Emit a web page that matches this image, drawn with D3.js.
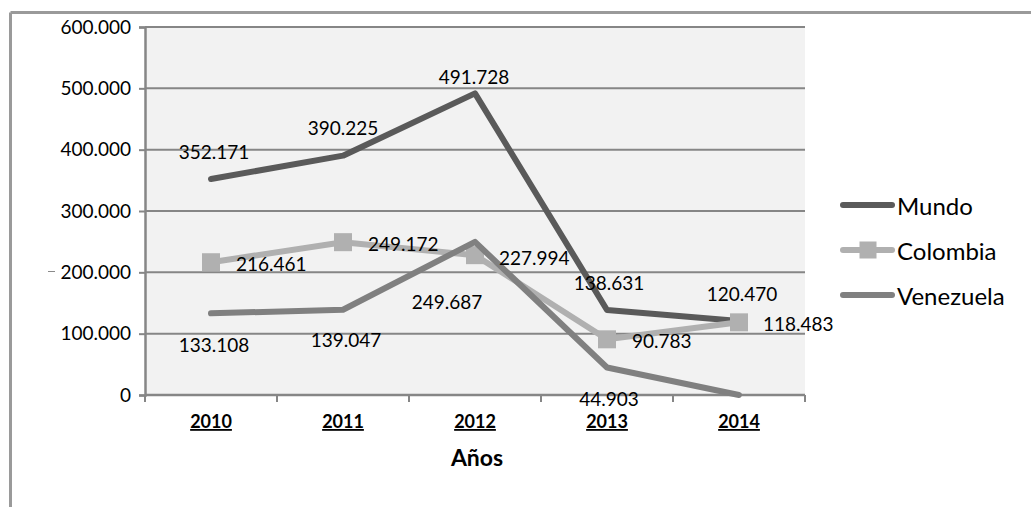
<!DOCTYPE html>
<html>
<head>
<meta charset="utf-8">
<script src="https://cdn.jsdelivr.net/npm/d3@7"></script>
<style>
  html, body { margin: 0; padding: 0; background: #ffffff; }
  svg { display: block; font-family: Lato, "Open Sans", sans-serif; }
</style>
</head>
<body>
<svg id="chart" width="1031" height="507"></svg>
<script>
// Years on the category axis
const years = ["2010", "2011", "2012", "2013", "2014"];

// Series values (null = no figure reported, drawn at zero)
const mundo     = [352171, 390225, 491728, 138631, 120470];
const colombia  = [216461, 249172, 227994, 90783, 118483];
const venezuela = [133108, 139047, 249687, 44903, null];

const seriesNames = ["Mundo", "Colombia", "Venezuela"];

// Value axis ticks
const yTicks = [0, 100000, 200000, 300000, 400000, 500000, 600000];

const axisTitle = "Años";

// Drawing styles per series
const styles = {
  Mundo:     { color: "#5a5a5a", marker: false },
  Colombia:  { color: "#b0b0b0", marker: true },
  Venezuela: { color: "#808080", marker: false }
};

// Hand placed data label offsets (from each point)
const labelPlacement = {
  Mundo:     { anchor: "middle", off: [[3, -28], [0, -28], [-1, -17], [2, -27], [3, -28]] },
  Colombia:  { anchor: "start",  off: [[25, 1], [25, 1], [24, 2], [25, 1], [24, 1]] },
  Venezuela: { anchor: "middle", off: [[3, 31], [3, 30], [-28, 60], [2, 31], [0, 0]] }
};

const fmt = d3.formatLocale({ decimal: ",", thousands: ".", grouping: [3], currency: ["", ""] }).format(",d");

const svg = d3.select("#chart");

// Outer chart frame (only top and left edges are visible)
svg.append("line").attr("x1", 10.5).attr("x2", 1031).attr("y1", 12.5).attr("y2", 12.5)
  .attr("stroke", "#9a9a9a").attr("stroke-width", 3);
svg.append("line").attr("x1", 10.5).attr("x2", 10.5).attr("y1", 12.5).attr("y2", 507)
  .attr("stroke", "#9a9a9a").attr("stroke-width", 3);

const plot = { left: 145, right: 805, top: 27, bottom: 395 };

const x = d3.scaleBand().domain(years).range([plot.left, plot.right]).padding(0);
const y = d3.scaleLinear().domain([0, 600000]).range([plot.bottom, plot.top]);
const cx = d => x(d) + x.bandwidth() / 2;

// Plot area background
svg.append("rect")
  .attr("x", plot.left).attr("y", plot.top)
  .attr("width", plot.right - plot.left).attr("height", plot.bottom - plot.top)
  .attr("fill", "#f2f2f2");

// Horizontal gridlines
svg.append("g").selectAll("line")
  .data(yTicks.filter(t => t > 0))
  .join("line")
  .attr("x1", plot.left).attr("x2", plot.right)
  .attr("y1", d => y(d)).attr("y2", d => y(d))
  .attr("stroke", "#868686").attr("stroke-width", 2);

// Value axis
const yAxis = svg.append("g")
  .attr("transform", `translate(${plot.left},0)`)
  .call(d3.axisLeft(y).tickValues(yTicks).tickSize(6).tickPadding(8).tickFormat(fmt));
yAxis.select(".domain").attr("stroke", "#868686").attr("stroke-width", 2.5);
yAxis.selectAll(".tick line").attr("stroke", "#868686").attr("stroke-width", 2);
yAxis.selectAll(".tick text").attr("font-size", 19).attr("fill", "#000")
  .attr("font-family", "Lato, sans-serif");

// Category axis
const xAxis = svg.append("g")
  .attr("transform", `translate(0,${plot.bottom})`)
  .call(d3.axisBottom(x).tickSize(0).tickPadding(0));
xAxis.select(".domain").remove();
xAxis.append("line").attr("x1", plot.left).attr("x2", plot.right)
  .attr("y1", 0).attr("y2", 0).attr("stroke", "#868686").attr("stroke-width", 2.5);
xAxis.selectAll(".bound")
  .data(d3.range(years.length + 1))
  .join("line")
  .attr("x1", i => plot.left + i * x.bandwidth())
  .attr("x2", i => plot.left + i * x.bandwidth())
  .attr("y1", 0).attr("y2", 7)
  .attr("stroke", "#868686").attr("stroke-width", 2);
xAxis.selectAll(".tick text")
  .attr("y", 33).attr("dy", 0)
  .attr("font-size", 18).attr("font-weight", "bold").attr("fill", "#000")
  .attr("text-decoration", "underline")
  .attr("font-family", "Lato, sans-serif");

// Axis title
svg.append("text")
  .attr("x", 477).attr("y", 466)
  .attr("text-anchor", "middle")
  .attr("font-size", 23).attr("font-weight", "bold").attr("fill", "#000")
  .text(axisTitle);

// Small stray tick beside the 200.000 label
svg.append("line").attr("x1", 48).attr("x2", 55).attr("y1", 271.5).attr("y2", 271.5)
  .attr("stroke", "#8a8a8a").attr("stroke-width", 1);

// Series lines
const seriesData = { Mundo: mundo, Colombia: colombia, Venezuela: venezuela };
const line = d3.line().x(d => cx(d.year)).y(d => y(d.value == null ? 0 : d.value));

seriesNames.forEach(name => {
  const pts = years.map((yr, i) => ({ year: yr, value: seriesData[name][i] }));
  svg.append("path")
    .datum(pts)
    .attr("d", line)
    .attr("fill", "none")
    .attr("stroke", styles[name].color)
    .attr("stroke-width", 6)
    .attr("stroke-linejoin", "round")
    .attr("stroke-linecap", "round");
  if (styles[name].marker) {
    svg.append("g").selectAll("rect")
      .data(pts)
      .join("rect")
      .attr("x", d => cx(d.year) - 9).attr("y", d => y(d.value) - 9)
      .attr("width", 18).attr("height", 18)
      .attr("fill", styles[name].color);
  }
});

// Data labels
seriesNames.forEach(name => {
  const place = labelPlacement[name];
  const pts = years.map((yr, i) => ({ year: yr, value: seriesData[name][i], off: place.off[i] }))
    .filter(d => d.value != null);
  svg.append("g").selectAll("text")
    .data(pts)
    .join("text")
    .attr("x", d => cx(d.year) + d.off[0])
    .attr("y", d => y(d.value) + d.off[1])
    .attr("dominant-baseline", "central")
    .attr("text-anchor", place.anchor)
    .attr("font-size", 19).attr("fill", "#000")
    .text(d => fmt(d.value));
});

// Legend
const legend = svg.append("g");
seriesNames.forEach((name, i) => {
  const ly = 205 + i * 45;
  legend.append("line")
    .attr("x1", 843).attr("x2", 892).attr("y1", ly).attr("y2", ly)
    .attr("stroke", styles[name].color).attr("stroke-width", 6)
    .attr("stroke-linecap", "round");
  if (styles[name].marker) {
    legend.append("rect")
      .attr("x", 868 - 8.5).attr("y", ly - 8.5).attr("width", 17).attr("height", 17)
      .attr("fill", styles[name].color);
  }
  legend.append("text")
    .attr("x", 897).attr("y", ly)
    .attr("dominant-baseline", "central")
    .attr("font-size", 24).attr("fill", "#000")
    .text(name);
});
</script>
</body>
</html>
